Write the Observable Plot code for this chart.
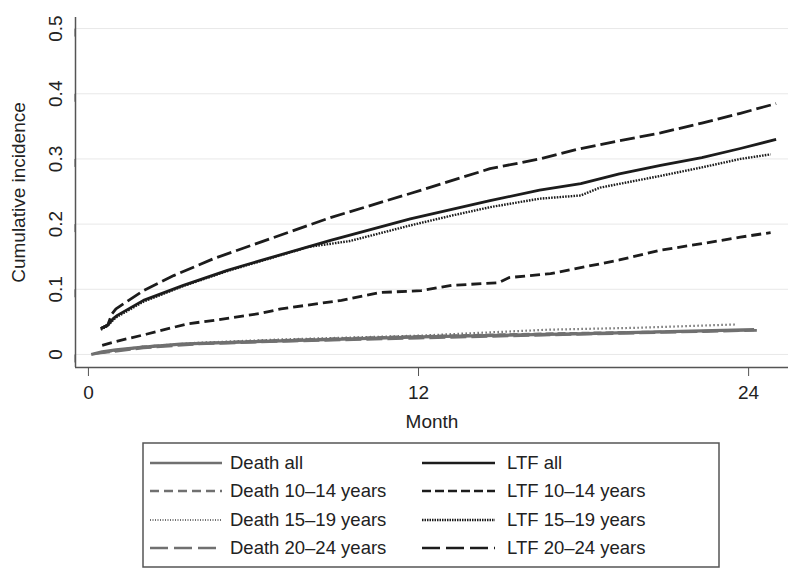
<!DOCTYPE html>
<html>
<head>
<meta charset="utf-8">
<script src="https://cdn.jsdelivr.net/npm/d3@7"></script>
<script src="https://cdn.jsdelivr.net/npm/@observablehq/plot@0.6"></script>
<style>
  html, body { margin: 0; padding: 0; background: #fff; }
  body { width: 800px; height: 581px; overflow: hidden; font-family: "Liberation Sans", Arial, Helvetica, sans-serif; }
  #chart svg { display: block; }
  #legend { display: block; }
</style>
</head>
<body>
<div id="chart"></div>
<div id="legend"></div>
<script>
// ---------- data ----------
const xTicks = [0, 12, 24];
const yTicks = [0, 0.1, 0.2, 0.3, 0.4, 0.5];
const xLabel = "Month";
const yLabel = "Cumulative incidence";

const deathAllMonth = [0.1, 0.5, 1.0, 1.9, 3.35, 4.07, 7.0, 12.1, 18.1, 24.2];
const deathAllValue = [0.000, 0.004, 0.007, 0.011, 0.016, 0.017, 0.021, 0.027, 0.032, 0.038];

const death1014Month = [0.5, 2.0, 4.0, 7.0, 12.0, 18.0, 24.0];
const death1014Value = [0.003, 0.012, 0.017, 0.022, 0.028, 0.033, 0.037];

const death1519Month = [0.5, 2.0, 4.0, 7.0, 12.1, 16.7, 20.0, 23.5];
const death1519Value = [0.003, 0.012, 0.018, 0.023, 0.029, 0.038, 0.041, 0.046];

const death2024Month = [0.2, 2.0, 4.0, 7.0, 12.0, 18.0, 24.3];
const death2024Value = [0.001, 0.010, 0.016, 0.020, 0.025, 0.031, 0.037];

const ltfAllMonth = [0.45, 0.7, 0.9, 1.05, 2.0, 3.45, 5.05, 6.25, 8.8, 11.7, 14.6, 16.4, 17.9, 19.3, 20.8, 22.3, 23.7, 25.0];
const ltfAllValue = [0.040, 0.045, 0.055, 0.060, 0.083, 0.106, 0.129, 0.144, 0.175, 0.208, 0.236, 0.252, 0.262, 0.277, 0.290, 0.302, 0.316, 0.330];

const ltf1014Month = [0.5, 1.0, 2.1, 3.6, 4.5, 6.25, 7.0, 9.2, 10.0, 10.6, 12.1, 13.2, 14.9, 15.3, 16.8, 19.3, 20.8, 22.3, 23.7, 24.8];
const ltf1014Value = [0.014, 0.020, 0.031, 0.047, 0.052, 0.063, 0.070, 0.083, 0.090, 0.095, 0.098, 0.106, 0.110, 0.118, 0.124, 0.145, 0.160, 0.170, 0.180, 0.187];

const ltf1519Month = [0.45, 0.7, 0.9, 1.05, 2.0, 3.45, 5.05, 6.25, 8.0, 9.5, 11.7, 13.2, 14.6, 16.4, 17.9, 18.6, 20.8, 22.3, 23.7, 24.8];
const ltf1519Value = [0.038, 0.044, 0.053, 0.058, 0.081, 0.105, 0.128, 0.143, 0.165, 0.174, 0.198, 0.213, 0.226, 0.239, 0.244, 0.256, 0.274, 0.287, 0.300, 0.307];

const ltf2024Month = [0.45, 0.7, 0.85, 1.0, 2.0, 3.1, 4.55, 5.9, 8.8, 11.7, 14.6, 16.4, 17.9, 19.3, 20.8, 22.3, 23.7, 25.0];
const ltf2024Value = [0.040, 0.045, 0.062, 0.070, 0.098, 0.121, 0.147, 0.167, 0.210, 0.247, 0.285, 0.300, 0.316, 0.328, 0.340, 0.355, 0.370, 0.385];

// ---------- styles ----------
const GRAY = "#707070";
const BLACK = "#1c1c1c";
const series = [
  {name: "Death all",          m: deathAllMonth, v: deathAllValue, stroke: GRAY,  width: 3.2, dash: null,    legendDash: null},
  {name: "Death 10–14 years",  m: death1014Month, v: death1014Value, stroke: GRAY, width: 2.4, dash: "8,4",  legendDash: "9,5"},
  {name: "Death 15–19 years",  m: death1519Month, v: death1519Value, stroke: GRAY, width: 2.2, dash: "1.5,2.5", legendDash: "1,1.5"},
  {name: "Death 20–24 years",  m: death2024Month, v: death2024Value, stroke: GRAY, width: 2.6, dash: "16,5", legendDash: "18,6"},
  {name: "LTF all",            m: ltfAllMonth, v: ltfAllValue, stroke: BLACK, width: 2.8, dash: null, legendDash: null},
  {name: "LTF 10–14 years",    m: ltf1014Month, v: ltf1014Value, stroke: BLACK, width: 2.8, dash: "10,5", legendDash: "9,4"},
  {name: "LTF 15–19 years",    m: ltf1519Month, v: ltf1519Value, stroke: BLACK, width: 2.4, dash: "1.6,1.2", legendDash: "1.5,1"},
  {name: "LTF 20–24 years",    m: ltf2024Month, v: ltf2024Value, stroke: BLACK, width: 2.8, dash: "15,5", legendDash: "18,6"}
];

const xDomain = [-0.47, 25.45];
const yDomain = [-0.02, 0.517];

const lineMarks = series.map(s => {
  const rows = s.m.map((m, i) => ({month: m, value: s.v[i]}));
  return Plot.line(rows, {
    x: "month", y: "value", stroke: s.stroke, strokeWidth: s.width,
    strokeDasharray: s.dash || undefined, strokeLinejoin: "round", strokeLinecap: "butt"
  });
});

const plot = Plot.plot({
  width: 800,
  height: 440,
  marginLeft: 75,
  marginRight: 12,
  marginTop: 17,
  marginBottom: 73,
  style: {fontFamily: "'Liberation Sans', Arial, Helvetica, sans-serif", fontSize: "19px", color: "#222", background: "#fff"},
  x: {domain: xDomain},
  y: {domain: yDomain},
  marks: [
    Plot.gridY(yTicks, {stroke: "#e8e8e8", strokeOpacity: 1, strokeWidth: 1}),
    Plot.ruleX([xDomain[0]], {stroke: "#555", strokeWidth: 1.5}),
    Plot.ruleY([yDomain[0]], {stroke: "#555", strokeWidth: 1.5}),
    Plot.axisX(xTicks, {tickSize: 9, tickPadding: 9, stroke: "#555", label: null, fontSize: 19, fill: "#222"}),
    Plot.axisY(yTicks, {tickSize: 8, tickPadding: 12, stroke: "#555", label: null, rotate: -90, textAnchor: "middle",
      tickFormat: d => d === 0 ? "0" : d.toFixed(1), fontSize: 19, fill: "#222"}),
    ...lineMarks,
    Plot.text([yLabel], {frameAnchor: "left", textAnchor: "middle", rotate: -90, dx: -57, fontSize: 19, fill: "#222"}),
    Plot.text([xLabel], {frameAnchor: "bottom", dy: 60, fontSize: 19, fill: "#222"})
  ]
});
document.getElementById("chart").appendChild(plot);

// ---------- legend ----------
const L = d3.select("#legend").append("svg")
  .attr("width", 800).attr("height", 141)
  .style("font-family", "'Liberation Sans', Arial, Helvetica, sans-serif");
L.append("rect").attr("x", 143).attr("y", 3).attr("width", 576).attr("height", 124)
  .attr("fill", "#fff").attr("stroke", "#555").attr("stroke-width", 1.5);
const rowY = [23, 51, 80, 108];
series.forEach((s, i) => {
  const col = i < 4 ? 0 : 1;
  const row = i % 4;
  const x0 = col === 0 ? 150 : 422;
  const x1 = col === 0 ? 222 : 495;
  const tx = col === 0 ? 230 : 507;
  L.append("line").attr("x1", x0).attr("x2", x1).attr("y1", rowY[row]).attr("y2", rowY[row])
    .attr("stroke", s.stroke).attr("stroke-width", Math.min(s.width, 2.6))
    .attr("stroke-dasharray", s.legendDash || null);
  L.append("text").attr("x", tx).attr("y", rowY[row]).attr("dy", "0.35em")
    .attr("font-size", 18.5).attr("fill", "#222").text(s.name);
});
</script>
</body>
</html>
